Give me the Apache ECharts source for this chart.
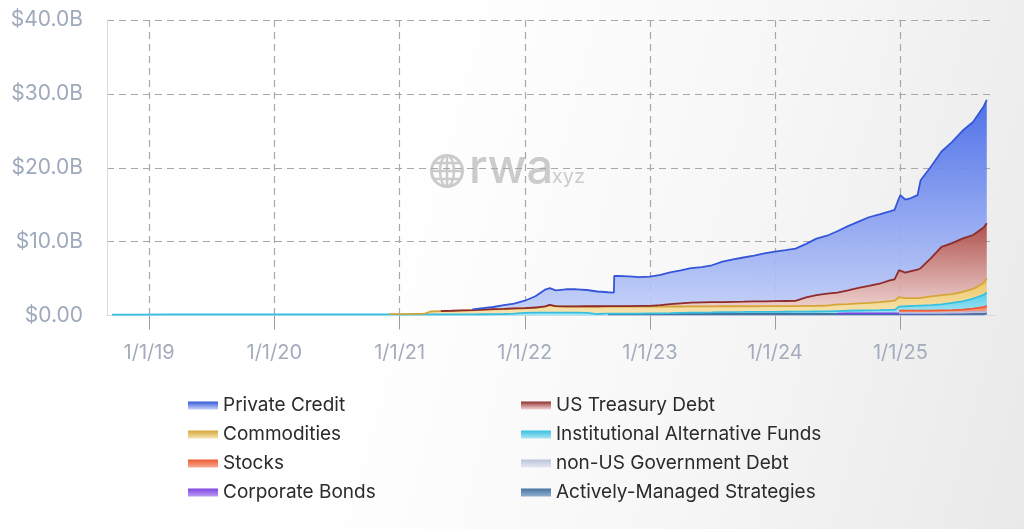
<!DOCTYPE html>
<html>
<head>
<meta charset="utf-8">
<script src="https://cdn.jsdelivr.net/npm/echarts@6/dist/echarts.min.js"></script>
<style>
html,body{margin:0;padding:0;width:1024px;height:529px;overflow:hidden;
background:linear-gradient(105deg,#ffffff 0%,#ffffff 38%,#f6f6f6 70%,#e9e9e9 100%);}
#chart{width:1024px;height:529px;}
</style>
</head>
<body>
<div id="chart"></div>
<script>
// ---- DATA ----
const dates = ['2018-09-15','2018-12-01','2019-03-01','2019-06-01','2019-09-01','2019-12-01','2020-03-01','2020-06-01','2020-09-01','2020-12-01',
'2021-02-01','2021-03-15','2021-04-01','2021-05-01','2021-06-01','2021-07-01','2021-08-01','2021-09-01','2021-10-01','2021-11-01','2021-12-01',
'2022-01-01','2022-02-01','2022-03-01','2022-03-15','2022-04-01','2022-05-01','2022-06-01','2022-07-01','2022-08-01','2022-09-01','2022-09-18','2022-09-19','2022-10-01','2022-11-01','2022-12-01',
'2023-01-01','2023-02-01','2023-03-01','2023-04-01','2023-05-01','2023-06-01','2023-07-01','2023-08-01','2023-09-01','2023-10-01','2023-11-01','2023-12-01',
'2024-01-01','2024-02-01','2024-03-01','2024-04-01','2024-05-01','2024-06-01','2024-07-01','2024-08-01','2024-09-01','2024-10-01','2024-11-01','2024-12-01','2024-12-15','2024-12-28',
'2025-01-01','2025-01-15','2025-02-01','2025-02-20','2025-03-01','2025-04-01','2025-05-01','2025-06-01','2025-07-01','2025-08-01','2025-09-01','2025-09-10'];

// values in $B (each series' own value; the chart stacks them)
const privateCredit = [null,null,null,null,null,null,null,null,null,null,
null,null,null,null,null,null,0.08,0.20,0.29,0.49,0.64,
0.99,1.52,2.27,2.27,2.12,2.31,2.31,2.20,2.00,1.89,1.84,4.09,4.08,4.02,3.90,
3.95,4.10,4.30,4.45,4.67,4.77,5.00,5.48,5.75,5.98,6.20,6.48,
6.70,6.89,7.08,7.25,7.65,7.85,8.30,8.70,8.95,9.30,9.40,9.35,9.40,9.75,
10.05,9.90,9.90,10.10,11.90,12.40,12.90,13.70,14.60,15.30,16.40,16.70];

const usTreasuryDebt = [null,null,null,null,null,null,null,null,null,null,
null,null,null,0.01,0.02,0.03,0.03,0.03,0.03,0.03,0.03,
0.03,0.03,0.03,0.03,0.03,0.04,0.04,0.05,0.05,0.06,0.06,0.06,0.07,0.08,0.10,
0.10,0.20,0.33,0.43,0.50,0.55,0.56,0.57,0.60,0.62,0.65,0.66,
0.69,0.69,0.69,1.15,1.43,1.60,1.60,1.85,2.10,2.30,2.48,2.80,2.90,3.65,
3.70,3.45,3.65,3.85,4.00,5.20,6.55,6.90,7.20,7.30,7.50,7.50];

const commodities = [null,null,null,null,null,null,null,null,null,0.03,
0.06,0.10,0.38,0.42,0.46,0.50,0.55,0.60,0.65,0.68,0.68,
0.63,0.65,0.80,1.00,0.85,0.80,0.82,0.85,1.00,0.95,0.95,0.95,0.95,0.95,0.94,
0.92,0.90,0.90,0.87,0.85,0.83,0.82,0.80,0.78,0.77,0.75,0.76,
0.76,0.76,0.76,0.77,0.78,0.80,0.90,0.91,0.97,1.00,1.10,1.20,1.25,1.30,
1.35,1.10,1.05,1.02,1.05,1.20,1.25,1.20,1.30,1.30,1.60,1.90];

const institutionalAltFunds = [0.12,0.13,0.14,0.15,0.15,0.15,0.14,0.15,0.15,0.15,
0.15,0.15,0.16,0.16,0.16,0.16,0.16,0.17,0.18,0.20,0.25,
0.35,0.40,0.40,0.40,0.40,0.40,0.38,0.35,0.20,0.05,0.05,0.05,0.05,0.05,0.06,
0.08,0.10,0.12,0.15,0.18,0.20,0.22,0.25,0.27,0.28,0.30,0.30,
0.30,0.31,0.32,0.33,0.34,0.35,0.35,0.36,0.38,0.40,0.42,0.45,0.45,0.55,
0.55,0.60,0.65,0.68,0.70,0.75,0.80,0.97,1.10,1.38,1.68,1.80];

const stocks = [null,null,null,null,null,null,null,null,null,null,
null,null,null,null,null,null,null,null,null,null,null,
null,null,null,null,null,null,null,null,null,null,null,null,null,null,null,
null,null,null,null,null,null,null,null,null,null,null,null,
null,null,null,null,null,null,null,null,null,null,null,null,null,0.30,
0.30,0.30,0.30,0.30,0.30,0.30,0.33,0.35,0.40,0.45,0.65,0.82];

const nonUSGovDebt = [null,null,null,null,null,null,null,null,null,null,
null,null,null,null,null,null,null,null,null,null,null,
null,null,null,null,null,null,null,null,null,null,null,null,null,null,null,
null,null,null,null,null,null,null,null,null,null,null,null,
null,null,null,null,null,null,null,null,null,null,null,null,null,0.05,
0.05,0.05,0.05,0.05,0.05,0.05,0.05,0.05,0.05,0.05,0.05,0.05];

const corporateBonds = [null,null,null,null,null,null,null,null,null,null,
null,null,null,null,null,null,null,null,null,null,null,
null,null,null,null,null,null,null,null,null,null,null,null,null,null,null,
null,null,null,null,null,null,null,null,null,null,null,null,
null,null,null,null,null,null,0.05,0.08,0.10,0.10,0.10,0.10,0.10,0.10,
0.10,0.10,0.10,0.10,0.10,0.10,0.12,0.13,0.15,0.20,0.20,0.20];

const activelyManaged = [null,null,null,null,null,null,null,null,null,null,
null,null,null,null,null,null,null,null,null,null,null,
null,null,null,null,null,null,null,null,null,0.20,0.20,0.20,0.20,0.20,0.20,
0.20,0.20,0.20,0.20,0.20,0.20,0.20,0.20,0.20,0.20,0.20,0.20,
0.20,0.20,0.20,0.20,0.20,0.20,0.20,0.20,0.20,0.20,0.20,0.20,0.20,0.20,
0.20,0.20,0.20,0.20,0.20,0.20,0.20,0.20,0.20,0.22,0.22,0.23];

const yTicks = [0, 10, 20, 30, 40];
const legendLeft = ['Private Credit','Commodities','Stocks','Corporate Bonds'];
const legendRight = ['US Treasury Debt','Institutional Alternative Funds','non-US Government Debt','Actively-Managed Strategies'];

// ---- STYLE ----
const FONT = 'Inter, "Liberation Sans", sans-serif';
const G = (a,b) => new echarts.graphic.LinearGradient(0,0,0,1,[{offset:0,color:a},{offset:1,color:b}]);
const styles = {
  'Private Credit': {line:'#3556d8', top:'rgba(70,106,232,0.95)', bot:'rgba(190,204,247,0.9)'},
  'US Treasury Debt': {line:'#8e2b2b', top:'rgba(168,66,60,0.92)', bot:'rgba(238,206,204,0.85)'},
  'Commodities': {line:'#d6a53a', top:'#ecc560', bot:'#f6e4b2'},
  'Institutional Alternative Funds': {line:'#36bfe3', top:'#55cdea', bot:'#ace6f3'},
  'Stocks': {line:'#ee5a34', top:'#f2724e', bot:'#f7ab92'},
  'non-US Government Debt': {line:'#b9c3d8', top:'#cdd4e4', bot:'#e6e9f1'},
  'Corporate Bonds': {line:'#7d45e0', top:'#9b63ee', bot:'#bb9cf3'},
  'Actively-Managed Strategies': {line:'#46739f', top:'#5a86b6', bot:'#92afcd'}
};

// stack order: bottom first
const seriesDefs = [
  ['Actively-Managed Strategies', activelyManaged],
  ['Corporate Bonds', corporateBonds],
  ['non-US Government Debt', nonUSGovDebt],
  ['Stocks', stocks],
  ['Institutional Alternative Funds', institutionalAltFunds],
  ['Commodities', commodities],
  ['US Treasury Debt', usTreasuryDebt],
  ['Private Credit', privateCredit]
];

const series = seriesDefs.map(([name, vals]) => ({
  name, type:'line', stack:'total', symbol:'none', smooth:false,
  connectNulls:false, silent:true,
  lineStyle:{width:1.8, color:styles[name].line},
  itemStyle:{color:styles[name].line},
  areaStyle:{color:G(styles[name].top, styles[name].bot), opacity:1},
  emphasis:{disabled:true},
  data: dates.map((d,i)=>[d, vals[i]])
}));

const legendItem = n => ({name:n, itemStyle:{color:G(styles[n].line, styles[n].bot), borderWidth:0}});
const legendBase = {
  orient:'vertical', icon:'rect', itemWidth:30, itemHeight:8, itemGap:10, padding:0,
  selectedMode:false, textStyle:{fontSize:19, color:'#2b2b2b', fontFamily:FONT}
};

const chart = echarts.init(document.getElementById('chart'), null, {renderer:'canvas'});
const WM = '#cbcbcb';
chart.setOption({
  backgroundColor:'transparent',
  animation:false,
  grid:{left:107, right:29, top:20, bottom:213.5, containLabel:false, outerBoundsMode:'none'},
  xAxis:{
    type:'time', min:'2018-08-31', max:'2025-10-04',
    minInterval:365*86400000, maxInterval:366*86400000,
    axisLine:{show:true, lineStyle:{color:'#d4dbe5', width:1}},
    axisTick:{show:true, length:14, lineStyle:{color:'#9c9c9c', width:1}},
    axisLabel:{fontSize:20, color:'#a3acbc', fontFamily:FONT, margin:27,
      formatter: v => { const d = new Date(v); return (d.getMonth()===0 && d.getDate()===1) ? ('1/1/' + String(d.getFullYear()).slice(2)) : ''; }},
    splitLine:{show:true, showMinLine:false, showMaxLine:false, lineStyle:{type:[7,5], color:'#a8a8a8', width:1.2}}
  },
  yAxis:{
    type:'value', min:yTicks[0], max:yTicks[yTicks.length-1], interval:10,
    axisLine:{show:true, lineStyle:{color:'#d4dbe5', width:1}},
    axisTick:{show:false},
    axisLabel:{fontSize:21, color:'#9ea9bb', fontFamily:FONT, margin:24,
      formatter: v => v === 0 ? '$0.00' : '$' + v.toFixed(1) + 'B'},
    splitLine:{show:true, showMinLine:false, lineStyle:{type:[7,5], color:'#a8a8a8', width:1.2}}
  },
  legend:[
    Object.assign({left:188, top:396, data:legendLeft.map(legendItem)}, legendBase),
    Object.assign({left:521, top:396, data:legendRight.map(legendItem)}, legendBase)
  ],
  graphic:[
    {type:'group', z:-1, silent:true, children:[
      {type:'circle', shape:{cx:447, cy:171, r:15.5}, style:{fill:'none', stroke:WM, lineWidth:3}},
      {type:'ellipse', shape:{cx:447, cy:171, rx:7, ry:15.5}, style:{fill:'none', stroke:WM, lineWidth:2.5}},
      {type:'line', shape:{x1:447, y1:156, x2:447, y2:186}, style:{stroke:WM, lineWidth:2.5}},
      {type:'line', shape:{x1:432, y1:171, x2:462, y2:171}, style:{stroke:WM, lineWidth:2.5}},
      {type:'line', shape:{x1:435, y1:163, x2:459, y2:163}, style:{stroke:WM, lineWidth:2.5}},
      {type:'line', shape:{x1:435, y1:179, x2:459, y2:179}, style:{stroke:WM, lineWidth:2.5}},
      {type:'text', style:{text:'rwa', x:469, y:169, fill:WM, font:'500 47px Inter, sans-serif', verticalAlign:'middle'}},
      {type:'text', style:{text:'.xyz', x:546, y:177, fill:WM, font:'20px Inter, sans-serif', verticalAlign:'middle'}}
    ]}
  ],
  series
});
</script>
</body>
</html>
